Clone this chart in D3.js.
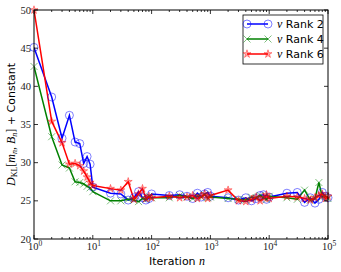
<!DOCTYPE html>
<html><head><meta charset="utf-8">
<script src="https://cdn.jsdelivr.net/npm/d3@7"></script>
<style>body{margin:0;background:#fff}</style>
</head><body>
<svg id="c" width="341" height="272"></svg>
<script>
const iterations = [1,2,3,4,5,6,7,8,9,10,20,30,40,50,60,70,80,90,100,200,300,400,500,600,700,800,900,1000,2000,3000,4000,5000,6000,7000,8000,9000,10000,20000,30000,40000,50000,60000,70000,80000,90000,100000];
const rank2 = [45.1,38.6,33.2,36.2,32.7,32.5,29.9,30.8,29.8,26.8,
  26.0,25.9,25.1,25.4,26.2,25.4,25.1,25.3,25.9,
  25.7,25.8,25.6,25.3,26.0,25.5,25.9,26.1,25.6,
  25.4,25.1,25.4,25.0,25.3,25.7,25.8,25.2,25.5,
  26.0,26.1,24.8,25.4,24.7,25.2,26.1,25.6,25.4];
const rank4 = [42.6,33.4,29.7,29.3,27.5,27.4,27.2,26.9,26.7,26.2,
  25.0,25.0,25.2,25.1,24.9,25.3,25.2,25.6,25.4,
  25.4,25.7,25.5,25.3,25.6,25.5,25.8,25.4,25.5,
  25.3,25.2,25.1,25.5,25.4,25.7,25.4,25.2,25.6,
  25.4,25.2,26.4,25.1,25.3,27.4,25.5,25.6,25.3];
const rank6 = [50.0,35.4,32.6,29.8,29.9,29.6,28.9,28.1,27.4,27.0,
  26.6,26.4,27.5,25.2,25.9,26.6,25.3,25.6,25.4,
  25.6,25.4,25.5,25.7,25.3,25.6,25.9,25.3,25.7,
  26.4,25.0,24.9,25.2,25.5,25.0,25.4,25.8,25.3,
  25.6,25.5,25.3,25.1,25.4,25.7,25.9,25.3,25.6];
const seriesNames = ["Rank 2","Rank 4","Rank 6"];
const yTicks = [20,25,30,35,40,45,50];
const xTickExps = [0,1,2,3,4,5];

const svg = d3.select("#c");
const L=34,R=328,T=10,B=239;
const x = d3.scaleLog().domain([1,1e5]).range([L,R]);
const y = d3.scaleLinear().domain([20,50]).range([B,T]);
const serif = "'Liberation Serif','DejaVu Serif',serif";
const sans = "'DejaVu Sans','Liberation Sans',sans-serif";

const series = [
  {name:seriesNames[0], vals:rank2, color:"#0000ff", marker:"circle"},
  {name:seriesNames[1], vals:rank4, color:"#008000", marker:"x"},
  {name:seriesNames[2], vals:rank6, color:"#ff0000", marker:"star"}
];

svg.append("defs").append("clipPath").attr("id","pc").append("rect")
  .attr("x",L).attr("y",T).attr("width",R-L).attr("height",B-T);

function drawMarker(g, type, cx, cy, color){
  if(type==="circle"){
    g.append("circle").attr("cx",cx).attr("cy",cy).attr("r",4)
      .attr("fill","none").attr("stroke",color).attr("stroke-opacity",0.5).attr("stroke-width",1);
  } else if(type==="x"){
    const s=3.5;
    g.append("path").attr("d",`M${cx-s},${cy-s}L${cx+s},${cy+s}M${cx-s},${cy+s}L${cx+s},${cy-s}`)
      .attr("stroke",color).attr("stroke-opacity",0.5).attr("stroke-width",1);
  } else {
    const star = d3.symbol().type(d3.symbolStar).size(20)();
    g.append("path").attr("d",star).attr("transform",`translate(${cx},${cy})`)
      .attr("fill",color).attr("fill-opacity",0.35).attr("stroke",color).attr("stroke-opacity",0.5).attr("stroke-width",0.8);
  }
}

const plot = svg.append("g").attr("clip-path","url(#pc)");
const line = d3.line().x((d,i)=>x(iterations[i])).y(d=>y(d));
series.forEach(s=>{
  plot.append("path").datum(s.vals).attr("d",line).attr("fill","none")
    .attr("stroke",s.color).attr("stroke-width",1.5);
});
series.forEach(s=>{
  const g = svg.append("g");
  s.vals.forEach((v,i)=>drawMarker(g,s.marker,x(iterations[i]),y(v),s.color));
});

svg.append("rect").attr("x",L).attr("y",T).attr("width",R-L).attr("height",B-T)
  .attr("fill","none").attr("stroke","#000").attr("stroke-width",1);

const ax = svg.append("g").attr("stroke","#000").attr("stroke-width",0.8);
xTickExps.forEach(e=>{
  const px = x(Math.pow(10,e));
  ax.append("line").attr("x1",px).attr("x2",px).attr("y1",B).attr("y2",B-4);
  ax.append("line").attr("x1",px).attr("x2",px).attr("y1",T).attr("y2",T+4);
  if(e<5){
    for(let k=2;k<10;k++){
      const mx = x(k*Math.pow(10,e));
      ax.append("line").attr("x1",mx).attr("x2",mx).attr("y1",B).attr("y2",B-2);
      ax.append("line").attr("x1",mx).attr("x2",mx).attr("y1",T).attr("y2",T+2);
    }
  }
  const t = svg.append("text").attr("x",px+1).attr("y",250).attr("text-anchor","middle")
    .attr("font-family",serif).attr("font-size",10.5).attr("fill","#222");
  t.append("tspan").text("10");
  t.append("tspan").attr("dy",-4.5).attr("font-size",7.5).text(String(e));
});
yTicks.forEach(v=>{
  const py = y(v);
  ax.append("line").attr("x1",L).attr("x2",L+4).attr("y1",py).attr("y2",py);
  ax.append("line").attr("x1",R).attr("x2",R-4).attr("y1",py).attr("y2",py);
  svg.append("text").attr("x",31).attr("y",py+3.5).attr("text-anchor","end")
    .attr("font-family",serif).attr("font-size",10.5).attr("fill","#222").text(v);
});

const xl = svg.append("text").attr("x",177).attr("y",265).attr("text-anchor","middle")
  .attr("font-size",11).attr("fill","#000");
xl.append("tspan").attr("font-family",sans).text("Iteration ");
xl.append("tspan").attr("font-family",serif).attr("font-style","italic").attr("font-size",12).text("n");

const yl = svg.append("text").attr("transform",`translate(15,${(T+B)/2}) rotate(-90)`)
  .attr("text-anchor","middle").attr("font-size",11).attr("fill","#000");
yl.append("tspan").attr("font-family",serif).attr("font-style","italic").attr("font-size",12).text("D");
yl.append("tspan").attr("font-family",serif).attr("font-size",8).attr("dy",2).text("KL");
yl.append("tspan").attr("font-family",serif).attr("font-size",12).attr("dy",-2).text("[");
yl.append("tspan").attr("font-family",serif).attr("font-style","italic").attr("font-size",12).text("m");
yl.append("tspan").attr("font-family",serif).attr("font-style","italic").attr("font-size",8).attr("dy",2).text("n");
yl.append("tspan").attr("font-family",serif).attr("font-size",12).attr("dy",-2).text(", ");
yl.append("tspan").attr("font-family",serif).attr("font-style","italic").attr("font-size",12).text("B");
yl.append("tspan").attr("font-family",serif).attr("font-style","italic").attr("font-size",8).attr("dy",2).text("n");
yl.append("tspan").attr("font-family",serif).attr("font-size",12).attr("dy",-2).text("]");
yl.append("tspan").attr("font-family",sans).text(" + Constant");

const lg = svg.append("g");
lg.append("rect").attr("x",243).attr("y",15).attr("width",80).attr("height",49)
  .attr("fill","#fff").attr("stroke","#000").attr("stroke-width",0.8);
series.forEach((s,i)=>{
  const ly = 24 + i*15;
  lg.append("line").attr("x1",247).attr("x2",268).attr("y1",ly).attr("y2",ly)
    .attr("stroke",s.color).attr("stroke-width",1.5);
  drawMarker(lg,s.marker,247,ly,s.color);
  drawMarker(lg,s.marker,268,ly,s.color);
  const t = lg.append("text").attr("x",277).attr("y",ly+4).attr("font-size",11).attr("fill","#000");
  t.append("tspan").attr("font-family",serif).attr("font-style","italic").attr("font-size",12).text("ν");
  t.append("tspan").attr("font-family",sans).text(" "+s.name);
});
</script>
</body></html>
